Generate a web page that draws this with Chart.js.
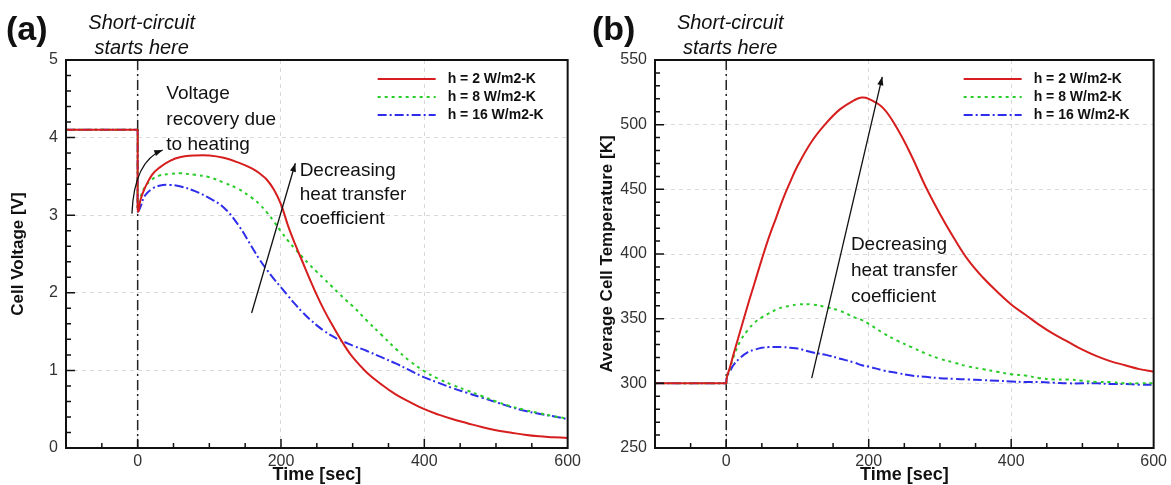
<!DOCTYPE html>
<html>
<head>
<meta charset="utf-8">
<script src="https://cdn.jsdelivr.net/npm/chart.js@4.4.1/dist/chart.umd.min.js"></script>
<style>
  body { margin: 0; background: #fff; }
  #wrap { position: relative; width: 1171px; height: 485px; }
  canvas { position: absolute; top: 0; }
</style>
</head>
<body>
<div id="wrap">
  <canvas id="chartA" width="585" height="485" style="left:0"></canvas>
  <canvas id="chartB" width="586" height="485" style="left:585px"></canvas>
</div>
<script>
// time axis (sec) and cell voltage (V) for the three cooling cases
const timeA = [-100, -0.5, 0, 0, 1, 4, 10, 20, 30, 45, 60, 80, 100, 120, 140, 160, 170, 180, 190, 200, 210,
    220, 230, 240, 250, 260, 270, 280, 290, 300, 320, 340, 360, 380, 400, 420, 440, 460, 480, 500, 520,
    540, 560, 580, 600];
const voltH2 = [4.1, 4.1, 4.1, 3.1, 3.05, 3.2, 3.35, 3.52, 3.61, 3.70, 3.75, 3.77, 3.77, 3.74, 3.68, 3.60, 3.54, 3.46, 3.33, 3.14, 2.86,
    2.62, 2.40, 2.18, 1.97, 1.78, 1.61, 1.45, 1.30, 1.17, 0.97, 0.82, 0.69, 0.59, 0.50, 0.43, 0.37, 0.32, 0.27, 0.23, 0.20,
    0.17, 0.15, 0.14, 0.13];
const voltH8 = [4.1, 4.1, 4.1, 3.1, 3.1, 3.23, 3.36, 3.46, 3.51, 3.53, 3.54, 3.52, 3.49, 3.42, 3.34, 3.22, 3.14, 3.04, 2.92, 2.79, 2.67,
    2.56, 2.46, 2.36, 2.27, 2.18, 2.09, 2.00, 1.91, 1.83, 1.64, 1.46, 1.28, 1.12, 0.99, 0.89, 0.81, 0.74, 0.67, 0.60, 0.54,
    0.49, 0.45, 0.41, 0.38];
const voltH16 = [4.1, 4.1, 4.1, 3.05, 3.05, 3.11, 3.25, 3.34, 3.38, 3.39, 3.37, 3.31, 3.22, 3.10, 2.88, 2.58, 2.43, 2.30, 2.18, 2.07, 1.96,
    1.85, 1.75, 1.66, 1.58, 1.51, 1.45, 1.40, 1.36, 1.32, 1.25, 1.17, 1.09, 1.00, 0.91, 0.84, 0.77, 0.71, 0.65, 0.59, 0.53,
    0.48, 0.44, 0.41, 0.37];

// average cell temperature (K)
const timeB = [-100, -0.5, 0, 1, 5, 10, 20, 30, 40, 50, 60, 70, 80, 90, 100, 120, 140, 160, 180, 190, 200,
    220, 240, 260, 280, 300, 320, 340, 360, 380, 400, 420, 440, 460, 480, 500, 520, 540, 560, 580, 600];
const tempH2 = [300, 300, 300, 305, 312, 322, 341, 360, 378, 396, 413, 428, 443, 456, 468, 487, 501, 512, 519, 521, 520,
    513, 497, 476, 452, 431, 412, 395, 382, 371, 361, 353, 345, 338, 332, 326, 321, 317, 314, 311, 309];
const tempH8 = [300, 300, 300, 305, 311, 320, 333, 341, 347, 351, 354, 357, 359, 360, 361, 361, 359, 356, 351, 349, 346,
    339, 333, 328, 323, 319, 316, 313, 311, 309, 307, 306, 304, 303, 303, 302, 301, 301, 300, 300, 300];
const tempH16 = [300, 300, 300, 305, 309, 314, 320, 324, 326, 327.5, 328, 328, 328, 327.5, 327, 324, 322, 319, 316, 314, 313,
    310, 308, 306, 305, 304, 303.5, 303, 302.5, 302, 301.5, 301, 301, 300.5, 300, 300, 300, 299.5, 299.5, 299, 299];

const seriesLabels = ['h = 2 W/m2-K', 'h = 8 W/m2-K', 'h = 16 W/m2-K'];
const lineColors = ['rgb(215,30,30)', 'rgb(40,205,40)', 'rgb(45,45,235)'];
const lineDashes = [[], [3, 4], [9, 3, 2, 3]];

const xTicks = [0, 200, 400, 600];
const yTicksA = [0, 1, 2, 3, 4, 5];
const yTicksB = [250, 300, 350, 400, 450, 500, 550];

Chart.defaults.font.family = "'Liberation Sans', Arial, sans-serif";
Chart.defaults.color = '#333';

function arrowHead(ctx, x0, y0, x1, y1) {
    const ang = Math.atan2(y1 - y0, x1 - x0);
    ctx.beginPath();
    ctx.moveTo(x1, y1);
    ctx.lineTo(x1 - 9 * Math.cos(ang - 0.35), y1 - 9 * Math.sin(ang - 0.35));
    ctx.lineTo(x1 - 9 * Math.cos(ang + 0.35), y1 - 9 * Math.sin(ang + 0.35));
    ctx.closePath();
    ctx.fill();
}

function panelPlugin(p) {
    return {
        id: 'panelDeco',
        beforeDatasetsDraw(chart) {
            // dash-dot marker where the short circuit begins
            const {ctx, chartArea: a, scales: {x}} = chart;
            const px = x.getPixelForValue(0);
            ctx.save();
            ctx.strokeStyle = '#222';
            ctx.lineWidth = 1.5;
            ctx.setLineDash([10, 4, 2, 4]);
            ctx.beginPath();
            ctx.moveTo(px, a.top);
            ctx.lineTo(px, a.bottom);
            ctx.stroke();
            ctx.restore();
        },
        afterDraw(chart) {
            const {ctx, chartArea: a, scales: {x, y}} = chart;
            ctx.save();

            // frame
            ctx.strokeStyle = '#111';
            ctx.lineWidth = 2;
            ctx.strokeRect(a.left, a.top, a.right - a.left, a.bottom - a.top);

            // inward tick marks
            ctx.lineWidth = 1.5;
            ctx.beginPath();
            for (let v = -50; v < 600; v += 50) {
                const X = x.getPixelForValue(v);
                const len = v % 200 === 0 ? 9 : 5;
                ctx.moveTo(X, a.bottom);
                ctx.lineTo(X, a.bottom - len);
            }
            const n = Math.round((p.yMax - p.yMin) / p.yMinor);
            for (let i = 1; i < n; i++) {
                const v = p.yMin + i * p.yMinor;
                const r = v / p.yMajor;
                const len = Math.abs(r - Math.round(r)) < 1e-6 ? 9 : 5;
                const Y = y.getPixelForValue(v);
                ctx.moveTo(a.left, Y);
                ctx.lineTo(a.left + len, Y);
            }
            ctx.stroke();

            // legend
            chart.data.datasets.forEach((ds, i) => {
                const ry = a.top + 19 + i * 18;
                ctx.strokeStyle = ds.borderColor;
                ctx.lineWidth = 2;
                ctx.setLineDash(ds.borderDash);
                ctx.beginPath();
                ctx.moveTo(a.right - 190, ry);
                ctx.lineTo(a.right - 132, ry);
                ctx.stroke();
                ctx.setLineDash([]);
                ctx.fillStyle = '#111';
                ctx.font = "bold 14px 'Liberation Sans', Arial";
                ctx.textBaseline = 'middle';
                ctx.textAlign = 'left';
                ctx.fillText(ds.label, a.right - 120, ry);
            });

            // arrows and notes
            ctx.strokeStyle = '#111';
            ctx.fillStyle = '#111';
            ctx.lineWidth = 1.3;
            p.arrows.forEach(ar => {
                const x0 = x.getPixelForValue(ar.from[0]), y0 = y.getPixelForValue(ar.from[1]);
                const x1 = x.getPixelForValue(ar.to[0]), y1 = y.getPixelForValue(ar.to[1]);
                ctx.beginPath();
                ctx.moveTo(x0, y0);
                if (ar.ctrl) {
                    const cx = x.getPixelForValue(ar.ctrl[0]), cy = y.getPixelForValue(ar.ctrl[1]);
                    ctx.quadraticCurveTo(cx, cy, x1, y1);
                    ctx.stroke();
                    arrowHead(ctx, cx, cy, x1, y1);
                } else {
                    ctx.lineTo(x1, y1);
                    ctx.stroke();
                    arrowHead(ctx, x0, y0, x1, y1);
                }
            });
            ctx.font = "19px 'Liberation Sans', Arial";
            ctx.textAlign = 'left';
            ctx.textBaseline = 'middle';
            p.notes.forEach(nt => {
                const tx = x.getPixelForValue(nt.at[0]), ty = y.getPixelForValue(nt.at[1]);
                nt.lines.forEach((ln, k) => ctx.fillText(ln, tx, ty + k * nt.gap));
            });

            // panel tag and header
            ctx.font = "bold 34px 'Liberation Sans', Arial";
            ctx.fillText(p.tag, p.tagX, 31);
            const cx0 = x.getPixelForValue(0) + 4;
            ctx.textAlign = 'center';
            ctx.font = "italic 20px 'Liberation Sans', Arial";
            ctx.fillText('Short-circuit', cx0, 23);
            ctx.fillText('starts here', cx0, 48);
            ctx.restore();
        }
    };
}

function makePanel(id, time, series, p) {
    return new Chart(document.getElementById(id), {
        type: 'line',
        data: {
            datasets: series.map((vals, i) => ({
                label: seriesLabels[i],
                data: time.map((t, k) => ({x: t, y: vals[k]})),
                borderColor: lineColors[i],
                borderDash: lineDashes[i],
                borderWidth: 2,
                pointRadius: 0,
                tension: 0.4,
                fill: false
            }))
        },
        options: {
            responsive: false,
            animation: false,
            devicePixelRatio: 1,
            layout: {padding: {top: 60, right: p.padRight, bottom: 0, left: 0}},
            plugins: {legend: {display: false}, tooltip: {enabled: false}},
            scales: {
                x: {
                    type: 'linear',
                    min: -100,
                    max: 600,
                    afterBuildTicks: s => { s.ticks = xTicks.map(v => ({value: v})); },
                    afterFit: s => { s.height = 37; },
                    grid: {color: '#d9d9d9', drawTicks: false},
                    border: {display: false, dash: [4, 4]},
                    ticks: {padding: 4, font: {size: 16}, color: '#333'},
                    title: {display: true, text: 'Time [sec]', color: '#111',
                        font: {size: 18, weight: 'bold', lineHeight: 1}, padding: {top: 0, bottom: 1}}
                },
                y: {
                    type: 'linear',
                    min: p.yMin,
                    max: p.yMax,
                    afterBuildTicks: s => { s.ticks = p.yTicks.map(v => ({value: v})); },
                    afterFit: s => { s.width = p.yWidth; },
                    grid: {color: '#d9d9d9', drawTicks: false},
                    border: {display: false, dash: [4, 4]},
                    ticks: {padding: 8, font: {size: 16}, color: '#333'},
                    title: {display: true, text: p.yTitle, color: '#111',
                        font: {size: 17, weight: 'bold'}, padding: {top: p.titlePad, bottom: 0}}
                }
            }
        },
        plugins: [panelPlugin(p)]
    });
}

makePanel('chartA', timeA, [voltH2, voltH8, voltH16], {
    tag: '(a)', tagX: 6, padRight: 15, yWidth: 66, titlePad: 8,
    yMin: 0, yMax: 5, yMajor: 1, yMinor: 0.2, yTicks: yTicksA,
    yTitle: 'Cell Voltage [V]',
    arrows: [
        {from: [-8, 3.02], ctrl: [-5, 3.7], to: [35, 3.84]},
        {from: [159, 1.74], to: [220, 3.67]}
    ],
    notes: [
        {at: [40, 4.56], gap: 25.5, lines: ['Voltage', 'recovery due', 'to heating']},
        {at: [226, 3.57], gap: 24, lines: ['Decreasing', 'heat transfer', 'coefficient']}
    ]
});

makePanel('chartB', timeB, [tempH2, tempH8, tempH16], {
    tag: '(b)', tagX: 7, padRight: 13, yWidth: 70, titlePad: 12,
    yMin: 250, yMax: 550, yMajor: 50, yMinor: 10, yTicks: yTicksB,
    yTitle: 'Average Cell Temperature [K]',
    arrows: [
        {from: [120, 304], to: [219, 537]}
    ],
    notes: [
        {at: [175, 407], gap: 26, lines: ['Decreasing', 'heat transfer', 'coefficient']}
    ]
});
</script>
</body>
</html>
